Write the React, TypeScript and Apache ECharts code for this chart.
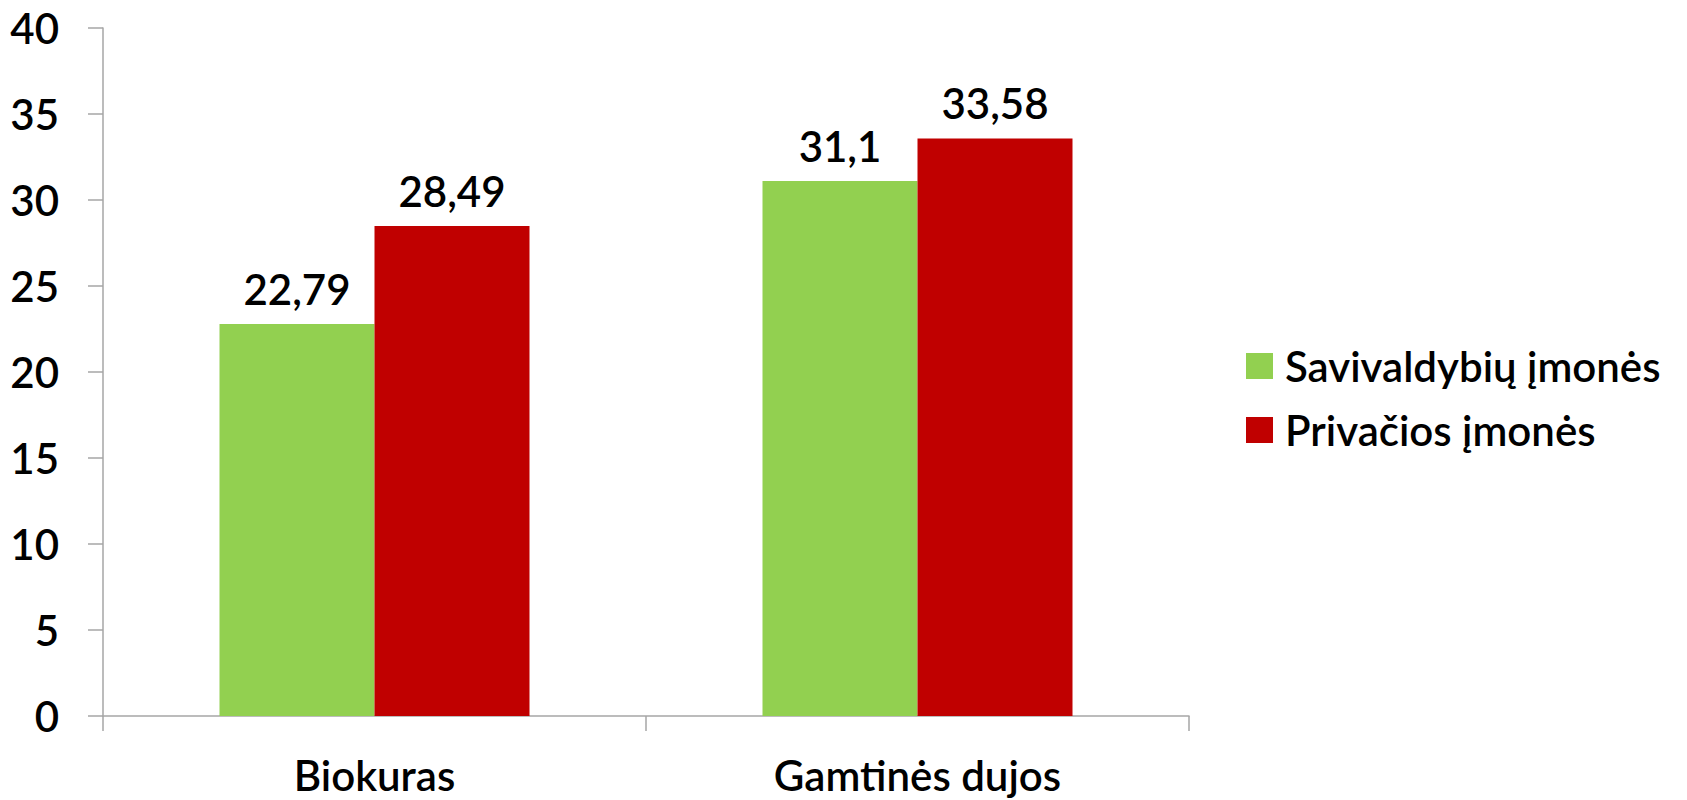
import React, { useEffect, useRef } from "react";
import * as echarts from "echarts";

const categories = ["Biokuras", "Gamtinės dujos"];
const seriesNames = ["Savivaldybių įmonės", "Privačios įmonės"];
const municipalValues = [22.79, 31.1];
const privateValues = [28.49, 33.58];
const seriesColors = ["#92D050", "#C00000"];

const FONT = "Lato";
const FS = 42;
const FW = 600;

export default function App() {
  const ref = useRef<HTMLDivElement>(null);
  useEffect(() => {
    if (!ref.current) return;
    const chart = echarts.init(ref.current, null, { renderer: "svg" });
    const label = {
      show: true,
      position: "top" as const,
      distance: 14,
      color: "#000",
      fontFamily: FONT,
      fontSize: FS,
      fontWeight: FW,
      formatter: (p: any) => String(p.value).replace(".", ","),
    };
    chart.setOption({
      animation: false,
      backgroundColor: "#fff",
      textStyle: { fontFamily: FONT },
      grid: { left: 103, right: 498, top: 28, bottom: 84, containLabel: false },
      legend: {
        orient: "vertical",
        left: 1241,
        top: 340,
        icon: "rect",
        itemWidth: 27,
        itemHeight: 26,
        itemGap: 22,
        textStyle: { fontFamily: FONT, fontSize: FS, fontWeight: FW, color: "#000", padding: [0, 0, 0, 7] },
        data: seriesNames,
      },
      xAxis: {
        type: "category",
        data: categories,
        axisLine: { lineStyle: { color: "#A6A6A6", width: 1.5 } },
        axisTick: { show: true, length: 15, lineStyle: { color: "#A6A6A6", width: 1.5 } },
        axisLabel: { color: "#000", fontFamily: FONT, fontSize: FS, fontWeight: FW, margin: 38 },
      },
      yAxis: {
        type: "value",
        min: 0,
        max: 40,
        interval: 5,
        axisLine: { show: true, lineStyle: { color: "#A6A6A6", width: 1.5 } },
        axisTick: { show: true, length: 15, lineStyle: { color: "#A6A6A6", width: 1.5 } },
        splitLine: { show: false },
        axisLabel: { color: "#000", fontFamily: FONT, fontSize: FS, fontWeight: FW, margin: 44 },
      },
      series: [
        {
          name: seriesNames[0],
          type: "bar",
          data: municipalValues,
          barWidth: 155,
          barGap: "0%",
          itemStyle: { color: seriesColors[0] },
          label,
        },
        {
          name: seriesNames[1],
          type: "bar",
          data: privateValues,
          barWidth: 155,
          barGap: "0%",
          itemStyle: { color: seriesColors[1] },
          label,
        },
      ],
    });
    return () => chart.dispose();
  }, []);
  return (
    <div
      ref={ref}
      style={{ position: "fixed", left: 0, top: 0, width: 1687, height: 800, background: "#fff" }}
    />
  );
}
